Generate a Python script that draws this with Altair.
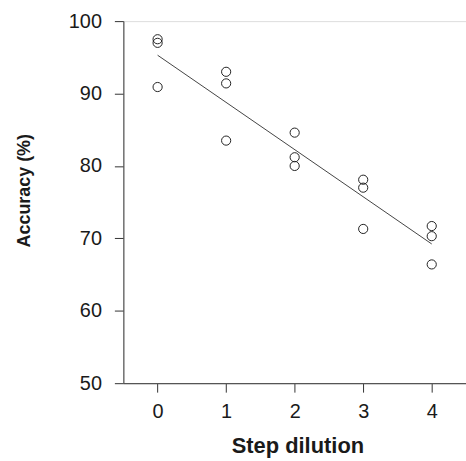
import altair as alt
import pandas as pd

# data
step = [0, 0, 0, 1, 1, 1, 2, 2, 2, 3, 3, 3, 4, 4, 4]
accuracy = [97.5, 97.0, 90.9, 93.0, 91.4, 83.5, 84.6, 81.2, 80.0,
            78.1, 77.0, 71.3, 71.7, 70.3, 66.4]
x_ticks = [0, 1, 2, 3, 4]
y_ticks = [50, 60, 70, 80, 90, 100]

df = pd.DataFrame({"step": step, "acc": accuracy})

W = 344.5
H = 364

x_scale = alt.Scale(domain=[-0.5, 4.5], nice=False, zero=False)
y_scale = alt.Scale(domain=[50, 100], nice=False, zero=False)

x_axis = alt.Axis(
    values=x_ticks, format="d", title="Step dilution", grid=False,
    domainColor="#555555", tickColor="#333333", tickSize=9, domainWidth=1.2,
    labelFont="Liberation Sans", labelFontSize=20, labelColor="#1a1a1a",
    labelPadding=10, labelAngle=0,
    titleFont="Liberation Sans", titleFontSize=22, titleFontWeight="bold",
    titleColor="#1a1a1a", titleX=175, titleY=70, titleBaseline="alphabetic",
    titleAnchor="start", titleAlign="center",
)
y_axis = alt.Axis(
    values=y_ticks, format="d", title="Accuracy (%)", grid=False,
    domainColor="#555555", tickColor="#333333", tickSize=9, domainWidth=1.2,
    labelFont="Liberation Sans", labelFontSize=20, labelColor="#1a1a1a",
    labelPadding=13,
    titleFont="Liberation Sans", titleFontSize=18, titleFontWeight="bold",
    titleColor="#1a1a1a", titleX=-94, titleY=170, titleBaseline="alphabetic",
    titleAlign="center", titleAngle=270,
)

points = alt.Chart(df).mark_point(
    shape="circle", filled=False, size=85, stroke="#222222", strokeWidth=1, opacity=1
).encode(
    x=alt.X("step:Q", scale=x_scale, axis=x_axis),
    y=alt.Y("acc:Q", scale=y_scale, axis=y_axis),
)

fit = alt.Chart(df).transform_regression(
    "step", "acc", extent=[0, 4]
).mark_line(color="#444444", strokeWidth=1).encode(
    x=alt.X("step:Q", scale=x_scale),
    y=alt.Y("acc:Q", scale=y_scale),
)

chart = alt.layer(fit, points).properties(
    width=W, height=H,
    autosize=alt.AutoSizeParams(type="none"),
    padding={"left": 124, "top": 20, "right": 0, "bottom": 77},
).configure_view(strokeWidth=0, stroke="transparent").configure(background="white")

chart.save("out.html", embed_options={"renderer": "svg", "actions": False})
